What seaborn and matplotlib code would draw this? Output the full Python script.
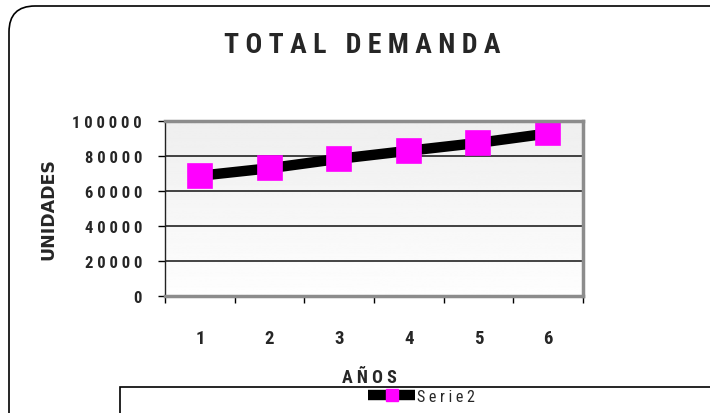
import numpy as np
import pandas as pd
import matplotlib
matplotlib.use("Agg")
import matplotlib.pyplot as plt
import seaborn as sns
from matplotlib.patches import FancyBboxPatch, Rectangle
from matplotlib.lines import Line2D

# Data
years = [1, 2, 3, 4, 5, 6]
demand = [68700, 73000, 78400, 83000, 87500, 92900]
y_ticks = [0, 20000, 40000, 60000, 80000, 100000]
series_name = "Serie2"
title_text = "TOTAL DEMANDA"
x_label = "AÑOS"
y_label = "UNIDADES"


def spaced(text):
    """Letter-spaced rendering of a label."""
    return " ".join(text)


sns.set_theme(style="white")
plt.rcParams["font.family"] = ["Roboto Condensed", "DejaVu Sans"]

W, H = 710, 414
fig = plt.figure(figsize=(W / 100, H / 100), dpi=100)
fig.patch.set_facecolor("white")

# Plot area in pixel bounds
left, right, top, bottom = 165, 583, 122, 297
ax = fig.add_axes([left / W, 1 - bottom / H, (right - left) / W, (bottom - top) / H])

# Soft vertical gradient behind the plot
grad = np.linspace(0.935, 0.995, 256)[:, None]
ax.imshow(grad, cmap="gray", vmin=0, vmax=1, aspect="auto",
          extent=[0, 1, 0, 1], transform=ax.transAxes, zorder=0)

df = pd.DataFrame({"year": years, "demand": demand})
sns.lineplot(data=df, x="year", y="demand", ax=ax, color="black", lw=7.5,
             marker="s", markersize=17.5, markerfacecolor="#ff00ff",
             markeredgecolor="#ff00ff", markeredgewidth=1.2, legend=False, zorder=4)
for ln in ax.get_lines():
    ln.set_markeredgewidth(1.2)
    ln.set_dash_joinstyle("round")

ax.set_xlim(years[0] - 0.5, years[-1] + 0.5)
ax.set_ylim(y_ticks[0], y_ticks[-1])

# Y axis: gridlines and spaced labels
ax.set_yticks(y_ticks)
ax.set_yticklabels([spaced(str(v)) for v in y_ticks])
ax.yaxis.grid(True, color="#111111", lw=1.1, zorder=1)
ax.xaxis.grid(False)
ax.tick_params(axis="y", which="major", left=True, length=5, width=1, color="black",
               direction="out", pad=11.5, labelsize=12)
for t in ax.get_yticklabels():
    t.set_fontweight("bold")

# X axis: boundary ticks, labels centred on categories
bounds = [y - 0.5 for y in years] + [years[-1] + 0.5]
ax.set_xticks(bounds)
ax.set_xticklabels([])
ax.set_xticks(years, minor=True)
ax.set_xticklabels([str(y) for y in years], minor=True)
ax.tick_params(axis="x", which="major", bottom=True, length=5, width=1, color="black",
               direction="out")
ax.tick_params(axis="x", which="minor", bottom=True, length=0, pad=24, labelsize=13.5)
for t in ax.get_xticklabels(minor=True):
    t.set_fontweight("bold")

ax.set_xlabel("")
ax.set_ylabel("")

# Frame
for side in ["top", "right", "bottom"]:
    ax.spines[side].set_color("#8c8c8c")
    ax.spines[side].set_linewidth(2.5)
ax.spines["left"].set_color("#222222")
ax.spines["left"].set_linewidth(1.0)
for s in ax.spines.values():
    s.set_zorder(5)

# Titles
fig.text(362 / W, 1 - 45.5 / H, spaced(title_text).replace("L D", "L  D"), ha="center",
         va="center", fontsize=20, fontweight="bold")
fig.text(369 / W, 1 - 378 / H, spaced(x_label), ha="center", va="center",
         fontsize=13, fontweight="bold")
fig.text(48 / W, 1 - 209 / H, y_label, ha="center", va="center", rotation=90,
         fontsize=12.5, fontweight="bold", family=["DejaVu Sans"])

# Outer rounded frame
outer = FancyBboxPatch((9, -40), 730, 407 + 40, boxstyle="round,pad=0,rounding_size=26",
                       transform=None, fill=False, edgecolor="black", lw=1.2)
fig.add_artist(outer)

# Legend frame and entry
legend_box = Rectangle((120, -40), 700, 40 + (H - 388), transform=None, fill=False,
                       edgecolor="black", lw=1.2)
fig.add_artist(legend_box)
handle = Line2D([], [], color="black", lw=7.5, marker="s", markersize=8.5,
                markerfacecolor="#ff00ff", markeredgecolor="#ff00ff",
                solid_capstyle="butt")
fig.legend(handles=[handle], labels=[spaced(series_name)], loc="center left",
           bbox_to_anchor=(368 / W, 1 - 397.5 / H), frameon=False, borderpad=0,
           borderaxespad=0, handlelength=2.95, handletextpad=0.12, fontsize=11.5)

fig.savefig("out.png", dpi=100)
